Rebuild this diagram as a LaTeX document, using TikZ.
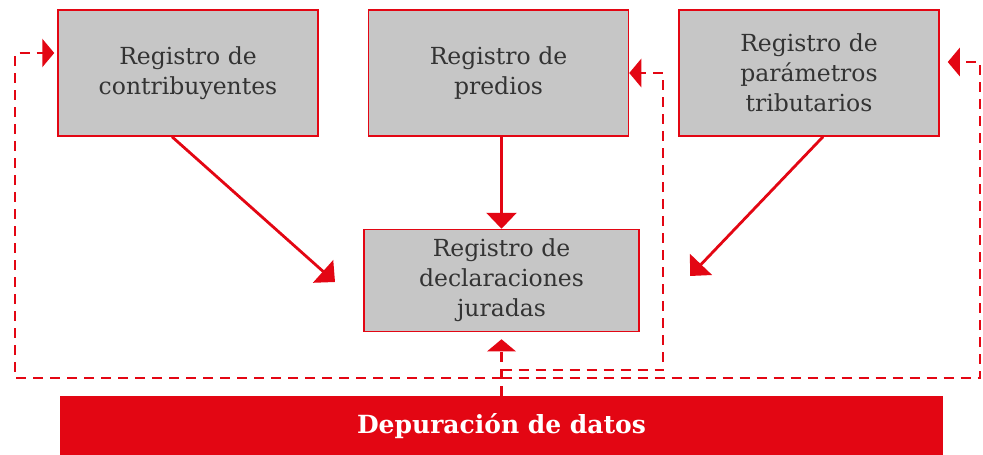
\documentclass[tikz,border=0pt]{standalone}
\usepackage{fontspec}
\setmainfont{DejaVu Serif}
\usetikzlibrary{positioning,arrows.meta,calc}
\definecolor{regred}{HTML}{E30613}
\definecolor{reggray}{HTML}{C6C6C6}
\definecolor{regtext}{HTML}{333333}

\begin{document}
\begin{tikzpicture}[x=1pt,y=-1pt,font=\fontsize{23.5}{30}\selectfont,>=Latex,node distance=49pt,
  reg/.style={draw=regred,line width=1.5pt,fill=reggray,text=regtext,align=center,minimum width=260pt,minimum height=126pt,inner sep=0pt,
    execute at begin node={\rule{0pt}{27pt}}},
  feed/.style={regred,line width=2.8pt,-{Triangle[length=16pt,width=30pt]}},
  back/.style={regred,line width=2.8pt,dash pattern=on 10pt off 7pt,-{Triangle[length=12pt,width=28pt]}}]
\useasboundingbox (0,0) rectangle (983,455);
% registros
\node[reg] (contrib) at (188,73) {Registro de\\contribuyentes};
\node[reg,right=of contrib] (predios) {Registro de\\predios};
\node[reg,right=of predios] (param) {Registro de\\parámetros\\tributarios};
\node[reg,minimum width=275pt,minimum height=102pt,below=92pt of predios,xshift=3pt] (jurad) {Registro de\\declaraciones\\juradas};
\node[fill=regred,text=white,font=\fontsize{25}{30}\selectfont\bfseries,minimum width=883pt,minimum height=60pt,inner sep=0pt] (depur) at (501.5,426) {Depuración de datos};
% flujos
\coordinate (tipA) at (335,282);
\coordinate (tipC) at (690,276);
\draw[feed] ($(contrib.south)+(-16,0)$) -- (tipA);
\draw[feed] (predios.south -| jurad.north) -- (jurad.north);
\draw[feed] ($(param.south)+(14,0)$) -- (tipC);
% retroalimentacion
\coordinate (jIn) at (depur.north |- 0,370);
\coordinate (rIn) at (663,370);
\coordinate (jOut) at (depur.north |- 0,378);
\coordinate (lOut) at (15,378);
\coordinate (rOut) at (980,378);
\draw[back,shorten >=7pt] (depur.north) -- (depur.north |- jurad.south);
\draw[back] (jIn) -- (rIn) |- (predios.east);
\draw[back,shorten >=3pt] (jOut) -- (lOut) |- ($(contrib.west)+(0,-20)$);
\draw[back,shorten >=8pt] (jOut) -- (rOut) |- ($(param.east)+(0,-11)$);
\end{tikzpicture}
\end{document}
